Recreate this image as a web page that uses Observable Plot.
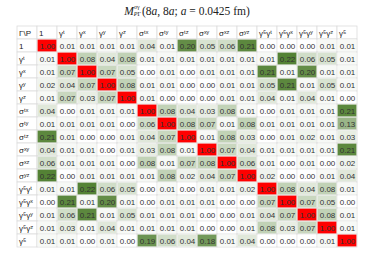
<!DOCTYPE html>
<html><head><meta charset="utf-8">
<script src="https://cdn.jsdelivr.net/npm/d3@7"></script>
<script src="https://cdn.jsdelivr.net/npm/@observablehq/plot@0.6"></script>
<style>
body{margin:0;background:#fff;width:374px;height:255px;overflow:hidden}
#title{height:22px;display:flex;align-items:center;justify-content:center;font-family:"Liberation Serif","DejaVu Serif",serif;font-size:11.5px;color:#222;white-space:nowrap}
.ss{display:inline-flex;flex-direction:column;font-size:6px;line-height:7px;vertical-align:middle;margin-right:1px}
svg{display:block}
</style></head><body>
<div id="title"><i>M</i><span class="ss"><span>σγ</span><span><i>P</i>Γ</span></span>(8<i>a</i>,&nbsp;8<i>a</i>;&nbsp;<i>a</i>&nbsp;=&nbsp;0.0425&nbsp;fm)</div>
<div id="chart"></div>
<script>
const corner = "Γ\\P";
const cols = ["1","γᵗ","γˣ","γʸ","γᶻ","σᵗˣ","σᵗʸ","σᵗᶻ","σˣʸ","σˣᶻ","σʸᶻ","γ⁵γᵗ","γ⁵γˣ","γ⁵γʸ","γ⁵γᶻ","γ⁵"];
const rows = cols.slice();
const row_1    = [1.00,0.01,0.01,0.01,0.01,0.04,0.01,0.20,0.05,0.06,0.21,0.00,0.00,0.00,0.01,0.01];
const row_gt   = [0.01,1.00,0.08,0.04,0.08,0.01,0.01,0.01,0.01,0.01,0.01,0.01,0.22,0.06,0.05,0.01];
const row_gx   = [0.01,0.07,1.00,0.07,0.05,0.00,0.01,0.00,0.01,0.01,0.01,0.21,0.01,0.20,0.01,0.01];
const row_gy   = [0.02,0.04,0.07,1.00,0.08,0.01,0.01,0.00,0.00,0.01,0.01,0.05,0.21,0.01,0.05,0.01];
const row_gz   = [0.01,0.07,0.03,0.07,1.00,0.01,0.00,0.00,0.00,0.01,0.01,0.04,0.01,0.04,0.01,0.00];
const row_stx  = [0.04,0.00,0.01,0.01,0.01,1.00,0.08,0.04,0.03,0.08,0.01,0.00,0.01,0.01,0.01,0.21];
const row_sty  = [0.01,0.01,0.01,0.01,0.00,0.06,1.00,0.08,0.07,0.01,0.08,0.01,0.01,0.01,0.01,0.13];
const row_stz  = [0.21,0.01,0.00,0.00,0.01,0.04,0.07,1.00,0.01,0.08,0.03,0.00,0.01,0.02,0.01,0.03];
const row_sxy  = [0.04,0.01,0.01,0.00,0.01,0.03,0.08,0.01,1.00,0.07,0.04,0.01,0.01,0.01,0.01,0.21];
const row_sxz  = [0.06,0.01,0.01,0.01,0.00,0.08,0.01,0.07,0.08,1.00,0.06,0.01,0.00,0.01,0.00,0.02];
const row_syz  = [0.22,0.00,0.01,0.01,0.01,0.01,0.08,0.02,0.04,0.07,1.00,0.02,0.00,0.00,0.01,0.04];
const row_g5gt = [0.01,0.01,0.22,0.06,0.05,0.00,0.01,0.00,0.01,0.01,0.02,1.00,0.08,0.04,0.08,0.01];
const row_g5gx = [0.00,0.21,0.01,0.20,0.01,0.00,0.01,0.01,0.01,0.00,0.00,0.07,1.00,0.07,0.05,0.00];
const row_g5gy = [0.01,0.06,0.21,0.01,0.05,0.01,0.01,0.01,0.00,0.00,0.01,0.04,0.07,1.00,0.08,0.01];
const row_g5gz = [0.01,0.03,0.01,0.04,0.01,0.01,0.01,0.01,0.00,0.00,0.01,0.08,0.03,0.07,1.00,0.01];
const row_g5   = [0.01,0.01,0.00,0.01,0.00,0.19,0.06,0.04,0.18,0.01,0.04,0.00,0.00,0.00,0.01,1.00];
const matrix = [row_1,row_gt,row_gx,row_gy,row_gz,row_stx,row_sty,row_stz,row_sxy,row_sxz,row_syz,row_g5gt,row_g5gx,row_g5gy,row_g5gz,row_g5];

const cells = rows.flatMap((r,i)=>matrix[i].map((v,j)=>({row:r,col:cols[j],v})));
const allX = [corner,...cols], allY = [corner,...rows];
const grid = allY.flatMap(r=>allX.map(c=>({row:r,col:c})));
const font = "Liberation Sans, Arial, sans-serif";

const chart = Plot.plot({
  width:374, height:233,
  marginTop:2, marginBottom:6, marginLeft:13, marginRight:13,
  style:{fontFamily:font, background:"#fff"},
  x:{domain:allX, axis:null, padding:0},
  y:{domain:allY, axis:null, padding:0},
  color:{type:"linear", domain:[0,0.22,0.99,1], range:["#ffffff","#548235","#548235","#ff0000"], clamp:true},
  marks:[
    Plot.cell(grid,{x:"col",y:"row",fill:"white",stroke:"#dcdcdc",strokeWidth:0.8}),
    Plot.cell(cells,{x:"col",y:"row",fill:"v",inset:0.6}),
    Plot.text(cells,{x:"col",y:"row",text:d=>d.v.toFixed(2),fill:"#333",fontSize:8}),
    Plot.text(cols,{x:d=>d,y:()=>corner,text:d=>d,textAnchor:"start",dx:-8.5,fill:"#222",fontSize:8}),
    Plot.text(rows,{x:()=>corner,y:d=>d,text:d=>d,textAnchor:"start",dx:-8.5,fill:"#222",fontSize:8}),
    Plot.text([corner],{x:d=>d,y:d=>d,text:d=>d,textAnchor:"start",dx:-8.5,fill:"#222",fontSize:8})
  ]
});
document.getElementById("chart").appendChild(chart);
</script>
</body></html>
